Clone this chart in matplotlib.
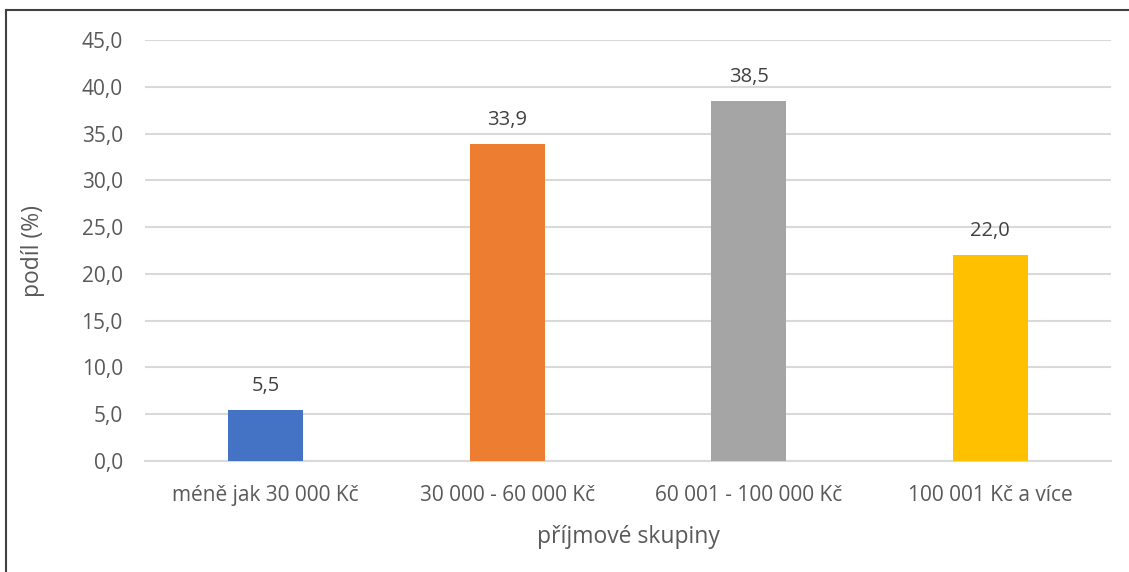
import matplotlib.pyplot as plt
from matplotlib.lines import Line2D

# data
categories = ['méně jak 30 000 Kč', '30 000 - 60 000 Kč', '60 001 - 100 000 Kč', '100 001 Kč a více']
values = [5.5, 33.9, 38.5, 22.0]
colors = ['#4472C4', '#ED7D31', '#A5A5A5', '#FFC000']
yticks = [0, 5, 10, 15, 20, 25, 30, 35, 40, 45]

plt.rcParams['font.family'] = ['Open Sans', 'DejaVu Sans']
text_color = '#595959'

fig = plt.figure(figsize=(11.29, 5.72), dpi=100)
ax = fig.add_axes([0.1284, 0.194, 0.8556, 0.736])

x = range(len(categories))
bars = ax.bar(x, values, width=0.31, color=colors, zorder=3)

for b, v in zip(bars, values):
    ax.annotate(f'{v:.1f}'.replace('.', ','), (b.get_x() + b.get_width() / 2, v),
                xytext=(0, 10), textcoords='offset points', ha='center', va='bottom',
                fontsize=14.5, color='#404040')

ax.set_xlim(-0.5, len(categories) - 0.5)
ax.set_ylim(0, 45)
ax.set_yticks(yticks)
ax.set_yticklabels([f'{t:.1f}'.replace('.', ',') for t in yticks])
ax.set_xticks(list(x))
ax.set_xticklabels(categories)
ax.grid(axis='y', color='#D9D9D9', linewidth=1.5, zorder=0)
ax.tick_params(axis='both', length=0, labelsize=15, colors=text_color)
ax.tick_params(axis='x', pad=17)
ax.tick_params(axis='y', pad=16)
for s in ['top', 'right', 'left']:
    ax.spines[s].set_visible(False)
ax.spines['bottom'].set_color('#D9D9D9')
ax.spines['bottom'].set_linewidth(1.5)

ax.set_xlabel('příjmové skupiny', fontsize=16.5, color=text_color, labelpad=14)
ax.set_ylabel('podíl (%)', fontsize=16.5, color=text_color, labelpad=26)

# frame on left and top
fig.add_artist(Line2D([6 / 1129, 6 / 1129], [0, 1 - 10 / 572], transform=fig.transFigure, color='#404040', linewidth=1.5))
fig.add_artist(Line2D([6 / 1129, 1], [1 - 10 / 572, 1 - 10 / 572], transform=fig.transFigure, color='#404040', linewidth=1.5))

fig.savefig('out.png', dpi=100)
